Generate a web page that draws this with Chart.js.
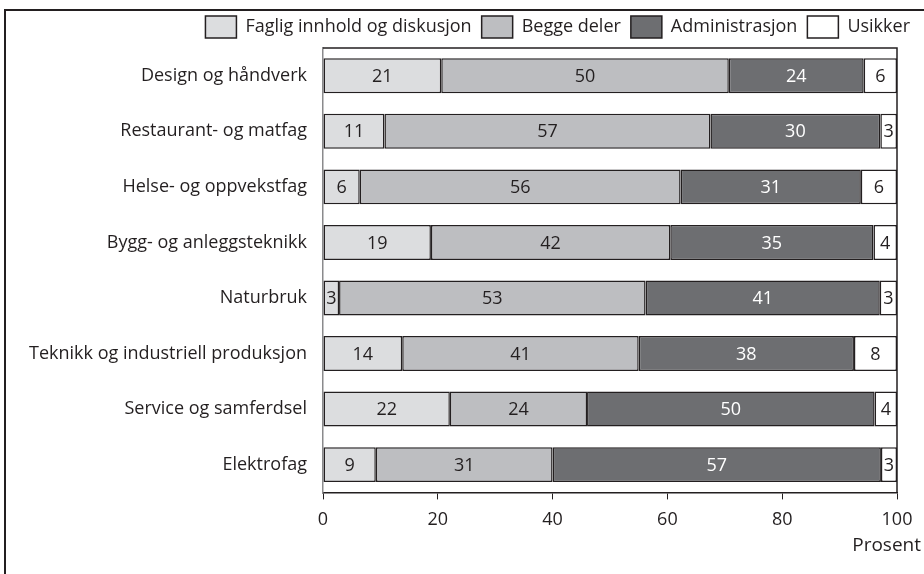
<!DOCTYPE html>
<html>
<head>
<meta charset="utf-8">
<script src="https://cdn.jsdelivr.net/npm/chart.js@4.4.1/dist/chart.umd.min.js"></script>
<style>
    body { margin: 0; background: #fff; }
    #wrap { position: relative; width: 924px; height: 574px; overflow: hidden; }
    #frame {
        position: absolute; left: 4px; top: 9px;
        width: 1000px; height: 1000px;
        border: 2px solid #231f20;
    }
    canvas { position: absolute; left: 0; top: 0; }
</style>
</head>
<body>
<div id="wrap">
    <div id="frame"></div>
    <canvas id="myChart" width="924" height="574"></canvas>
</div>
<script>
const categories = [
    "Design og håndverk",
    "Restaurant- og matfag",
    "Helse- og oppvekstfag",
    "Bygg- og anleggsteknikk",
    "Naturbruk",
    "Teknikk og industriell produksjon",
    "Service og samferdsel",
    "Elektrofag",
];
const seriesNames = ["Faglig innhold og diskusjon", "Begge deler", "Administrasjon", "Usikker"];
const faglig = [20.6, 10.7, 6.4, 18.8, 2.8, 13.8, 22.1, 9.2];
const begge = [50.1, 56.8, 55.9, 41.7, 53.4, 41.2, 23.9, 30.8];
const administrasjon = [23.5, 29.6, 31.4, 35.4, 40.8, 37.5, 50.1, 57.2];
const usikker = [5.8, 2.9, 6.3, 4.1, 3.0, 7.5, 3.9, 2.8];
const xTicks = [0, 20, 40, 60, 80, 100];
const axisTitle = "Prosent";

const FONT = "'Open Sans', sans-serif";
const INK = "#231f20";
const SIZE = 18;

// value labels centred in each segment
const barLabels = {
    id: "barLabels",
    afterDatasetsDraw(chart) {
        const ctx = chart.ctx;
        ctx.save();
        ctx.font = `${SIZE}px ${FONT}`;
        ctx.textAlign = "center";
        ctx.textBaseline = "middle";
        chart.data.datasets.forEach((ds, i) => {
            chart.getDatasetMeta(i).data.forEach((bar, j) => {
                ctx.fillStyle = ds.labelColor;
                ctx.fillText(Math.round(ds.data[j]), (bar.x + bar.base) / 2, bar.y + 1);
            });
        });
        ctx.restore();
    },
};

// top + right edge of the plot box, and the axis title under the ticks
const boxLines = {
    id: "boxLines",
    afterDraw(chart) {
        const a = chart.chartArea;
        const ctx = chart.ctx;
        ctx.save();
        ctx.strokeStyle = INK;
        ctx.lineWidth = 1.5;
        ctx.beginPath();
        ctx.moveTo(a.left, a.top);
        ctx.lineTo(a.right, a.top);
        ctx.lineTo(a.right, a.bottom);
        ctx.stroke();
        ctx.font = `${SIZE + 1}px ${FONT}`;
        ctx.fillStyle = INK;
        ctx.textAlign = "right";
        ctx.textBaseline = "middle";
        ctx.fillText(axisTitle, 921, 546);
        ctx.restore();
    },
};

function makeSet(label, data, color, labelColor) {
    return {
        label,
        data,
        backgroundColor: color,
        borderColor: INK,
        borderWidth: 1.5,
        borderSkipped: false,
        labelColor,
        barPercentage: 0.63,
        categoryPercentage: 1,
    };
}

function main() {
    const ctx = document.getElementById("myChart");

    new Chart(ctx, {
        type: "bar",
        data: {
            labels: categories,
            datasets: [
                makeSet(seriesNames[0], faglig, "#dcdddf", INK),
                makeSet(seriesNames[1], begge, "#bdbec1", INK),
                makeSet(seriesNames[2], administrasjon, "#6d6e71", "#ffffff"),
                makeSet(seriesNames[3], usikker, "#ffffff", INK),
            ],
        },
        options: {
            indexAxis: "y",
            responsive: false,
            animation: false,
            layout: { padding: { top: 6, right: 4, left: 0, bottom: 33 } },
            plugins: {
                tooltip: { enabled: false },
                legend: {
                    position: "top",
                    align: "end",
                    labels: {
                        boxWidth: 31,
                        boxHeight: 22,
                        padding: 10,
                        color: INK,
                        font: { family: FONT, size: SIZE },
                    },
                },
            },
            scales: {
                x: {
                    stacked: true,
                    min: 0,
                    max: 100,
                    afterBuildTicks: (scale) => {
                        scale.ticks = xTicks.map((v) => ({ value: v }));
                    },
                    grid: {
                        drawOnChartArea: false,
                        drawTicks: true,
                        tickLength: 7,
                        color: INK,
                    },
                    border: { display: true, color: INK, width: 1.5 },
                    ticks: {
                        padding: 10,
                        color: INK,
                        font: { family: FONT, size: SIZE },
                    },
                },
                y: {
                    stacked: true,
                    afterFit: (scale) => { scale.width = 323; },
                    grid: { display: false },
                    border: { display: true, color: "#8a8a8c", width: 1.5 },
                    ticks: {
                        padding: 8,
                        color: INK,
                        font: { family: FONT, size: SIZE },
                    },
                },
                yRight: {
                    type: "linear",
                    position: "right",
                    display: true,
                    afterFit: (scale) => { scale.width = 23; },
                    grid: { display: false },
                    border: { display: false },
                    ticks: { display: false },
                },
            },
        },
        plugins: [barLabels, boxLines],
    });
}

main();
</script>
</body>
</html>
